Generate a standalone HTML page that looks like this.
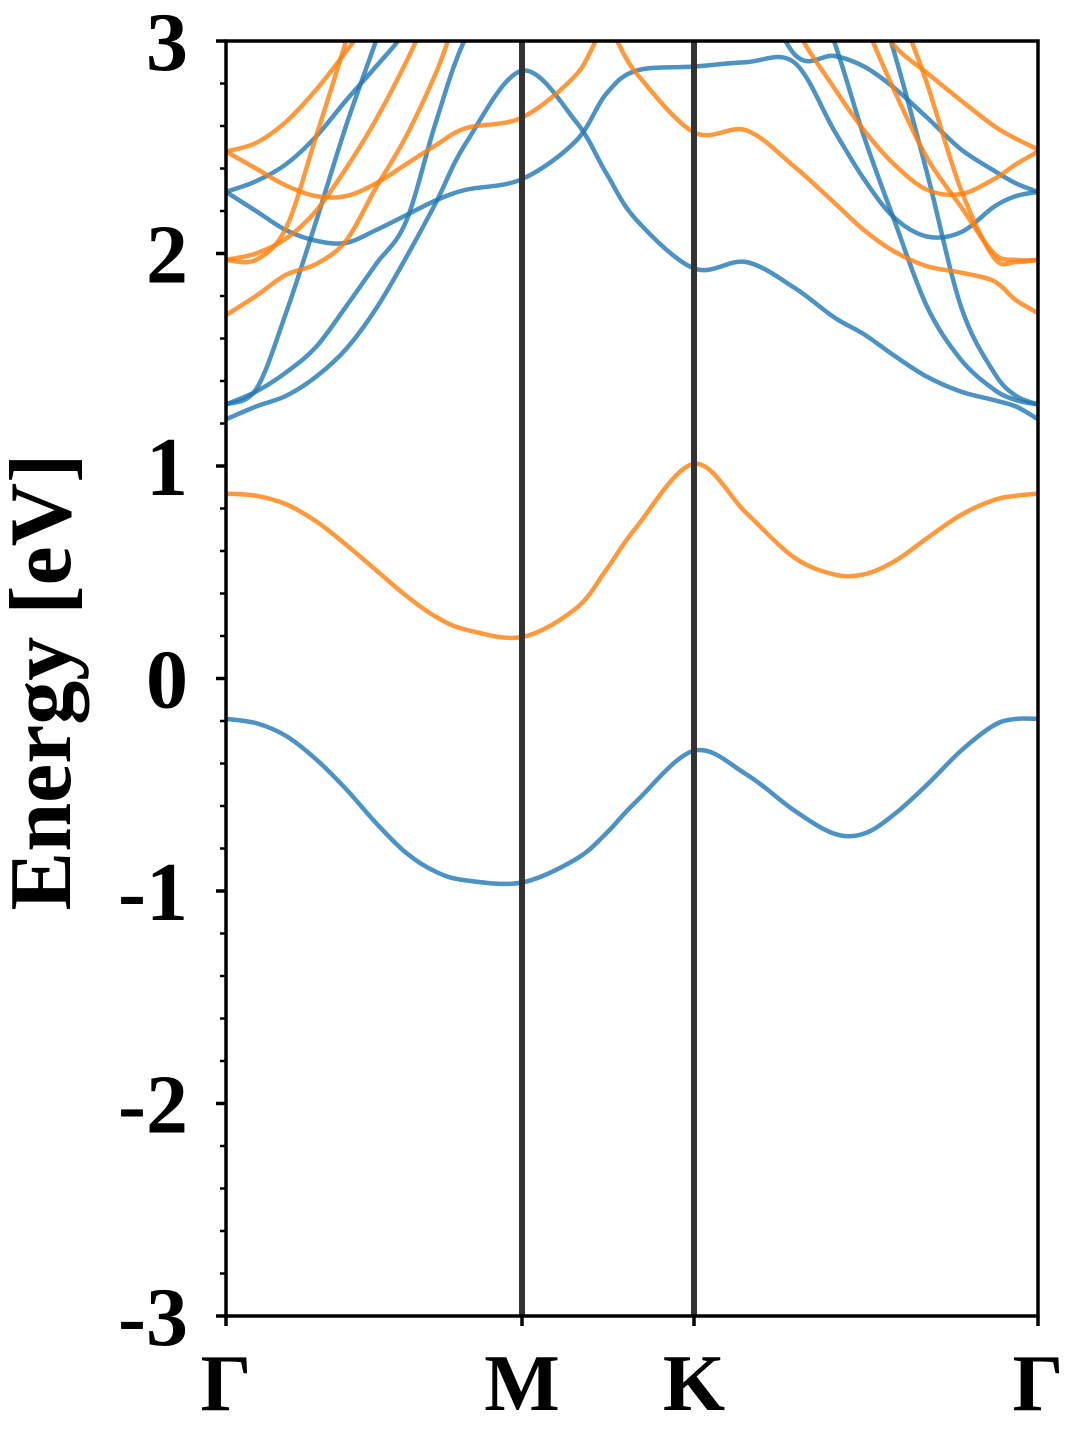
<!DOCTYPE html>
<html><head><meta charset="utf-8"><style>
html,body{margin:0;padding:0;background:#fff;}
svg{display:block;}
text{font-family:"Liberation Serif",serif;font-weight:bold;fill:#000;}
</style></head><body>
<svg id="chart" width="1080" height="1440" viewBox="0 0 1080 1440" xmlns="http://www.w3.org/2000/svg">
<defs><clipPath id="plotclip"><rect x="226" y="41" width="812" height="1275"/></clipPath></defs>
<g id="bands" clip-path="url(#plotclip)"></g>
<g id="axes"></g>
</svg>
<script>
const kPath = [0,0.3,0.6,0.9,1.2,1.5,1.8,2.1,2.4,2.96,3.5,3.8,4.1,4.68,5.2,5.68,6.08,6.38,6.68,7.01,7.35,7.68,7.90,8.12];
const kTicks = [0,2.96,4.68,8.12];
const kTickLabels = ["Γ","M","K","Γ"];
const yTicks = [-3,-2,-1,0,1,2,3];
const yTickLabels = ["-3","-2","-1","0","1","2","3"];
const blueBand1 = [-0.19,-0.21,-0.27,-0.38,-0.52,-0.68,-0.82,-0.91,-0.95,-0.96,-0.85,-0.73,-0.58,-0.34,-0.45,-0.62,-0.73,-0.73,-0.64,-0.50,-0.34,-0.22,-0.19,-0.19];
const blueBandA = [1.29,1.36,1.72,2.15,2.6,3.0,3.4,3.7,3.9,4.0,4.0,4.0,4.0,4.0,3.9,3.5,3.0,2.55,2.16,1.75,1.5,1.36,1.31,1.29];
const blueBandB = [1.29,1.35,1.44,1.56,1.75,1.95,2.15,2.62,3.02,3.5,4.0,4.0,4.0,4.0,4.0,4.0,3.8,3.4,2.95,2.38,1.75,1.44,1.33,1.29];
const blueBandC = [1.22,1.28,1.33,1.42,1.55,1.74,1.98,2.24,2.52,2.86,2.62,2.38,2.16,1.93,1.96,1.84,1.70,1.62,1.52,1.42,1.35,1.31,1.28,1.22];
const blueBandD = [2.29,2.20,2.11,2.06,2.05,2.11,2.18,2.25,2.30,2.35,2.53,2.75,2.86,2.88,2.90,2.90,2.58,2.35,2.17,2.08,2.10,2.22,2.27,2.29];
const blueBandE = [2.29,2.34,2.42,2.55,2.72,2.88,3.05,3.3,3.5,3.8,3.8,3.8,3.8,3.8,3.4,2.94,2.93,2.88,2.78,2.64,2.49,2.39,2.33,2.29];
const orangeBand1 = [0.87,0.86,0.82,0.74,0.63,0.51,0.39,0.29,0.23,0.195,0.33,0.51,0.71,1.01,0.78,0.57,0.49,0.49,0.55,0.66,0.77,0.84,0.86,0.87];
const orangeBandA = [2.48,2.52,2.62,2.77,2.95,3.15,3.4,3.6,3.8,3.9,3.9,3.9,3.9,3.9,3.9,3.9,3.5,3.2,2.98,2.85,2.72,2.60,2.54,2.49];
const orangeBandB = [2.48,2.40,2.32,2.27,2.27,2.33,2.42,2.51,2.59,2.64,2.84,3.05,2.85,2.57,2.58,2.41,2.24,2.11,2.01,1.94,1.91,1.87,1.78,1.72];
const orangeBandC = [1.97,1.97,2.12,2.55,3.0,3.5,3.9,4.0,4.0,4.0,4.0,4.0,4.0,4.0,4.0,4.0,4.0,3.9,3.25,2.8,2.3,1.98,1.96,1.97];
const orangeBandD = [1.97,2.0,2.07,2.2,2.4,2.63,2.9,3.2,3.5,3.8,3.9,3.9,3.9,3.9,3.9,3.9,3.5,3.1,2.77,2.45,2.22,2.0,1.97,1.97];
const orangeBandE = [1.71,1.80,1.90,1.95,2.06,2.31,2.55,2.85,3.2,3.6,3.8,3.8,3.8,3.8,3.6,3.08,2.78,2.58,2.42,2.30,2.28,2.35,2.42,2.48];

const blueBands = [blueBand1,blueBandA,blueBandB,blueBandC,blueBandD,blueBandE];
const orangeBands = [orangeBand1,orangeBandA,orangeBandB,orangeBandC,orangeBandD,orangeBandE];

const X0=226,X1=1038,Y0=1316,Y1=41;
const xScale = k => X0 + (k - 0)/(8.12 - 0)*(X1-X0);
const yScale = e => Y0 - (e - (-3))/(3 - (-3))*(Y0-Y1);
const NS="http://www.w3.org/2000/svg";
function mk(tag, attrs){const el=document.createElementNS(NS,tag);for(const a in attrs)el.setAttribute(a,attrs[a]);return el;}

function pathFor(vals){
  const pts = kPath.map((k,i)=>[xScale(k),yScale(vals[i])]);
  let d = "M"+pts[0][0].toFixed(2)+","+pts[0][1].toFixed(2);
  for(let i=0;i<pts.length-1;i++){
    const p0=pts[Math.max(0,i-1)],p1=pts[i],p2=pts[i+1],p3=pts[Math.min(pts.length-1,i+2)];
    const c1=[p1[0]+(p2[0]-p0[0])/6,p1[1]+(p2[1]-p0[1])/6];
    const c2=[p2[0]-(p3[0]-p1[0])/6,p2[1]-(p3[1]-p1[1])/6];
    d+=" C"+c1[0].toFixed(2)+","+c1[1].toFixed(2)+" "+c2[0].toFixed(2)+","+c2[1].toFixed(2)+" "+p2[0].toFixed(2)+","+p2[1].toFixed(2);
  }
  return d;
}
const gB=document.getElementById('bands');
blueBands.forEach((b,i)=>{
  const p=mk('path',{d:pathFor(b),fill:'none',stroke:'#1f77b4','stroke-width':4.5,'stroke-opacity':0.8});
  
  
  gB.appendChild(p);
});
orangeBands.forEach((b,i)=>{
  const p=mk('path',{d:pathFor(b),fill:'none',stroke:'#ff7f0e','stroke-width':4.5,'stroke-opacity':0.8});
  
  
  gB.appendChild(p);
});
const gA=document.getElementById('axes');
kTicks.slice(1,3).forEach((k,i)=>{
  const l=mk('line',{x1:xScale(k),x2:xScale(k),y1:Y1,y2:Y0,stroke:'#333','stroke-width':6});
  
  
  gA.appendChild(l);
});
const fr=mk('rect',{x:X0,y:Y1,width:X1-X0,height:Y0-Y1,fill:'none',stroke:'#000','stroke-width':3.5});


gA.appendChild(fr);
for(let v=-3;v<=3.001;v+=0.2){
  const y=yScale(v);
  const t=mk('line',{x1:X0-6,x2:X0,y1:y,y2:y,stroke:'#000','stroke-width':2.5});
  
  
  gA.appendChild(t);
}
yTicks.forEach((v,i)=>{
  const y=yScale(v);
  const t=mk('line',{x1:X0-10,x2:X0,y1:y,y2:y,stroke:'#000','stroke-width':3.5});
  
  
  gA.appendChild(t);
  const tx=mk('text',{x:188,y:y+29,'text-anchor':'end','font-size':84});
  tx.textContent=yTickLabels[i];
  
  
  gA.appendChild(tx);
});
kTicks.forEach((k,i)=>{
  const x=xScale(k);
  const t=mk('line',{x1:x,x2:x,y1:Y0,y2:Y0+10,stroke:'#000','stroke-width':3.5});
  
  
  gA.appendChild(t);
  const tx=mk('text',{x:x,y:1410,'text-anchor':'middle','font-size':80});
  tx.textContent=kTickLabels[i];
  
  
  gA.appendChild(tx);
});
const yt=mk('text',{x:0,y:0,'text-anchor':'middle','font-size':88,transform:'translate(70,682) rotate(-90)'});
yt.textContent='Energy [eV]';


gA.appendChild(yt);
</script>
</body></html>
